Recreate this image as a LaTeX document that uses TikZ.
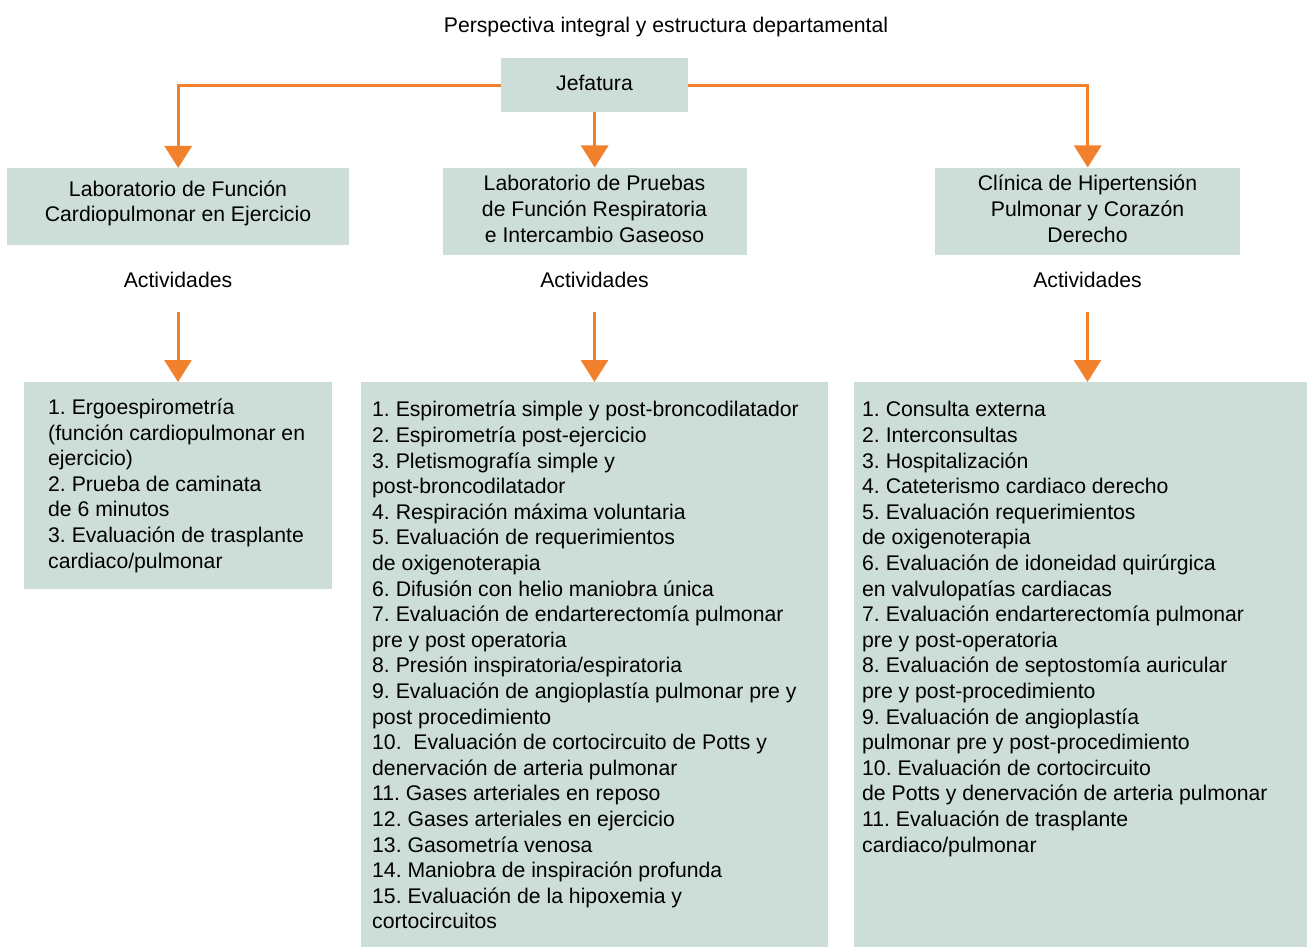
\documentclass[tikz,border=0pt]{standalone}
\usepackage{fontspec}
\setmainfont{Liberation Sans}
\usetikzlibrary{arrows.meta,calc}
\definecolor{boxfill}{HTML}{CDDED9}
\definecolor{conncol}{HTML}{F1812D}
\newcommand{\fsz}{\fontsize{21.2}{25.6}\selectfont\frenchspacing}
\newcommand{\ts}{\rule{0pt}{17.92pt}}
\begin{document}
\begin{tikzpicture}[x=1pt,y=-1pt,
  box/.style={fill=boxfill, draw=none, inner sep=0pt, anchor=north west},
  txt/.style={inner sep=0pt, font=\fsz, text=black},
  conn/.style={draw=conncol, line width=3pt, -{Triangle[width=27pt,length=22pt]}}]
\useasboundingbox (0,0) rectangle (1307,947);

% title
\node[txt, anchor=north] (title) at (666,14.4) {\ts Perspectiva integral y estructura departamental};

% top box
\node[box, minimum width=187pt, minimum height=53.5pt] (jef) at (501,58.3) {};
\node[txt, anchor=north] (jeft) at (594.5,72.8) {\ts Jefatura};

% header boxes
\node[box, minimum width=342pt, minimum height=77pt] (hd1) at (7,168) {};
\node[box, minimum width=304.4pt, minimum height=86.8pt] (hd2) at (442.3,167.5) {};
\node[box, minimum width=305pt, minimum height=87pt] (hd3) at (935,167.5) {};
\node[txt, anchor=north, align=center] (hd1t) at (178,178.1) {\ts Laboratorio de Función\\Cardiopulmonar en Ejercicio};
\node[txt, anchor=north, align=center] (hd2t) at (594.5,172.8) {\ts Laboratorio de Pruebas\\de Función Respiratoria\\e Intercambio Gaseoso};
\node[txt, anchor=north, align=center] (hd3t) at (1087.5,172.8) {\ts Clínica de Hipertensión\\Pulmonar y Corazón\\Derecho};

% Actividades
\node[txt, anchor=north] (act1) at (178,269.1) {\ts Actividades};
\node[txt, anchor=north] (act2) at (594.5,269.1) {\ts Actividades};
\node[txt, anchor=north] (act3) at (1087.5,269.1) {\ts Actividades};

% list boxes
\node[box, minimum width=308pt, minimum height=207pt] (l1) at (24,382) {};
\node[box, minimum width=467pt, minimum height=565pt] (l2) at (361,382) {};
\node[box, minimum width=453pt, minimum height=565pt] (l3) at (854,382) {};

\node[txt, anchor=north west, align=left] (l1t) at (48,396.4) {\ts 1. Ergoespirometría\\
(función cardiopulmonar en\\
ejercicio)\\
2. Prueba de caminata\\
de 6 minutos\\
3. Evaluación de trasplante\\
cardiaco/pulmonar};

\node[txt, anchor=north west, align=left] (l2t) at (372,398.8) {\ts 1. Espirometría simple y post-broncodilatador\\
2. Espirometría post-ejercicio\\
3. Pletismografía simple y\\
post-broncodilatador\\
4. Respiración máxima voluntaria\\
5. Evaluación de requerimientos\\
de oxigenoterapia\\
6. Difusión con helio maniobra única\\
7. Evaluación de endarterectomía pulmonar\\
pre y post operatoria\\
8. Presión inspiratoria/espiratoria\\
9. Evaluación de angioplastía pulmonar pre y\\
post procedimiento\\
10.\ \ Evaluación de cortocircuito de Potts y\\
denervación de arteria pulmonar\\
11. Gases arteriales en reposo\\
12. Gases arteriales en ejercicio\\
13. Gasometría venosa\\
14. Maniobra de inspiración profunda\\
15. Evaluación de la hipoxemia y\\
cortocircuitos};

\node[txt, anchor=north west, align=left] (l3t) at (862,398.8) {\ts 1. Consulta externa\\
2. Interconsultas\\
3. Hospitalización\\
4. Cateterismo cardiaco derecho\\
5. Evaluación requerimientos\\
de oxigenoterapia\\
6. Evaluación de idoneidad quirúrgica\\
en valvulopatías cardiacas\\
7. Evaluación endarterectomía pulmonar\\
pre y post-operatoria\\
8. Evaluación de septostomía auricular\\
pre y post-procedimiento\\
9. Evaluación de angioplastía\\
pulmonar pre y post-procedimiento\\
10. Evaluación de cortocircuito\\
de Potts y denervación de arteria pulmonar\\
11. Evaluación de trasplante\\
cardiaco/pulmonar};

% connectors
\draw[conn] (jef.west) -| (hd1.north);
\draw[conn] (jef.east) -| (hd3.north);
\draw[conn] (jef.south) -- (hd2.north);

\coordinate (a1) at (178,312.3);
\coordinate (a2) at (594.5,312.3);
\coordinate (a3) at (1087.5,312.3);
\draw[conn] (a1) -- (a1 |- l1.north);
\draw[conn] (a2) -- (a2 |- l2.north);
\draw[conn] (a3) -- (a3 |- l3.north);
\end{tikzpicture}
\end{document}
